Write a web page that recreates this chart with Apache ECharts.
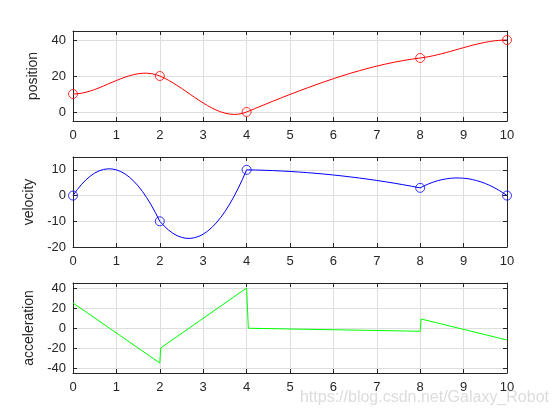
<!DOCTYPE html>
<html>
<head>
<meta charset="utf-8">
<script src="https://cdn.jsdelivr.net/npm/echarts@6/dist/echarts.min.js"></script>
<style>
html,body{margin:0;padding:0;background:#fff;}
#chart{width:560px;height:420px;}
</style>
</head>
<body>
<div id="chart"></div>
<script>
// Knot points (markers)
const tKnots   = [0, 2, 4, 8, 10];
const posKnots = [10, 20, 0, 30, 40];
const velKnots = [0, -10, 10, 3, 0];

const seg1T   = [0, 0.1, 0.2, 0.3, 0.4, 0.5, 0.6, 0.7, 0.8, 0.9, 1, 1.1, 1.2, 1.3, 1.4, 1.5, 1.6, 1.7, 1.8, 1.9, 2];
const seg1Pos = [10, 10.12, 10.46, 10.99, 11.68, 12.5, 13.42, 14.41, 15.44, 16.48, 17.5, 18.47, 19.36, 20.14, 20.78, 21.25, 21.52, 21.56, 21.34, 20.83, 20];
const seg1Vel = [0, 2.35, 4.4, 6.15, 7.6, 8.75, 9.6, 10.15, 10.4, 10.35, 10, 9.35, 8.4, 7.15, 5.6, 3.75, 1.6, -0.85, -3.6, -6.65, -10];

const seg2T   = [2, 2.1, 2.2, 2.3, 2.4, 2.5, 2.6, 2.7, 2.8, 2.9, 3, 3.1, 3.2, 3.3, 3.4, 3.5, 3.6, 3.7, 3.8, 3.9, 4];
const seg2Pos = [20, 18.91, 17.64, 16.24, 14.72, 13.13, 11.48, 9.82, 8.16, 6.55, 5, 3.56, 2.24, 1.09, 0.12, -0.63, -1.12, -1.34, -1.24, -0.81, 0];
const seg2Vel = [-10, -11.85, -13.4, -14.65, -15.6, -16.25, -16.6, -16.65, -16.4, -15.85, -15, -13.85, -12.4, -10.65, -8.6, -6.25, -3.6, -0.65, 2.6, 6.15, 10];

const seg3T   = [4, 4.2, 4.4, 4.6, 4.8, 5, 5.2, 5.4, 5.6, 5.8, 6, 6.2, 6.4, 6.6, 6.8, 7, 7.2, 7.4, 7.6, 7.8, 8];
const seg3Pos = [0, 1.99, 3.97, 5.93, 7.86, 9.75, 11.6, 13.41, 15.17, 16.87, 18.5, 20.06, 21.55, 22.96, 24.28, 25.5, 26.62, 27.64, 28.55, 29.34, 30];
const seg3Vel = [10, 9.94, 9.84, 9.72, 9.56, 9.38, 9.16, 8.92, 8.64, 8.34, 8, 7.64, 7.24, 6.82, 6.36, 5.88, 5.36, 4.82, 4.24, 3.64, 3];

const seg4T   = [8, 8.1, 8.2, 8.3, 8.4, 8.5, 8.6, 8.7, 8.8, 8.9, 9, 9.1, 9.2, 9.3, 9.4, 9.5, 9.6, 9.7, 9.8, 9.9, 10];
const seg4Pos = [30, 30.34, 30.77, 31.26, 31.81, 32.41, 33.04, 33.7, 34.38, 35.07, 35.75, 36.42, 37.06, 37.66, 38.22, 38.72, 39.15, 39.51, 39.77, 39.94, 40];
const seg4Vel = [3, 3.85, 4.59, 5.23, 5.76, 6.19, 6.51, 6.73, 6.84, 6.85, 6.75, 6.55, 6.24, 5.83, 5.31, 4.69, 3.96, 3.13, 2.19, 1.15, 0];

const accT    = [0, 2, 2.02, 4, 4.04, 8, 8.02, 10];
const accVals = [25, -35, -20, 40, -0.25, -3.25, 9, -12];

const posTicks = [0, 20, 40];
const velTicks = [-20, -10, 0, 10];
const accTicks = [-40, -20, 0, 20, 40];

const pairs = (xs, ys) => xs.map((x, i) => [x, ys[i]]);

const FONT = 'Liberation Sans, Arial, Helvetica, sans-serif';
const AX = '#262626';
const GRIDC = '#dedede';

const grids = [
  {left: 73, top: 31, width: 434, height: 90},
  {left: 73, top: 157, width: 434, height: 90},
  {left: 73, top: 283, width: 434, height: 90}
];

function xAxes(gi) {
  return [
    {
      type: 'value', gridIndex: gi, min: 0, max: 10, interval: 1, position: 'bottom',
      axisLine: {show: true, onZero: false, lineStyle: {color: AX, width: 1}},
      axisTick: {show: true, inside: true, length: 4, lineStyle: {color: AX}},
      axisLabel: {show: true, color: AX, fontFamily: FONT, fontSize: 13, margin: 8},
      splitLine: {show: true, lineStyle: {color: GRIDC, width: 1}}
    },
    {
      type: 'value', gridIndex: gi, min: 0, max: 10, interval: 1, position: 'top',
      axisLine: {show: true, onZero: false, lineStyle: {color: AX, width: 1}},
      axisTick: {show: true, inside: true, length: 4, lineStyle: {color: AX}},
      axisLabel: {show: false},
      splitLine: {show: false}
    }
  ];
}

function yAxes(gi, min, max, ticks, name, gap) {
  return [
    {
      type: 'value', gridIndex: gi, min: min, max: max, position: 'left',
      name: name, nameLocation: 'middle', nameGap: gap,
      nameTextStyle: {color: AX, fontFamily: FONT, fontSize: 14},
      axisLine: {show: true, onZero: false, lineStyle: {color: AX, width: 1}},
      axisTick: {show: true, inside: true, length: 4, lineStyle: {color: AX}, customValues: ticks},
      axisLabel: {show: true, color: AX, fontFamily: FONT, fontSize: 13, margin: 7, customValues: ticks},
      splitLine: {show: true, lineStyle: {color: GRIDC, width: 1}}
    },
    {
      type: 'value', gridIndex: gi, min: min, max: max, position: 'right',
      axisLine: {show: true, onZero: false, lineStyle: {color: AX, width: 1}},
      axisTick: {show: true, inside: true, length: 4, lineStyle: {color: AX}, customValues: ticks},
      axisLabel: {show: false, customValues: ticks},
      splitLine: {show: false}
    }
  ];
}

function lineSeries(xi, yi, data, color) {
  return {
    type: 'line', xAxisIndex: xi, yAxisIndex: yi, data: data,
    smooth: false, showSymbol: false, symbol: 'none',
    lineStyle: {color: color, width: 1}, animation: false, silent: true
  };
}
function markerSeries(xi, yi, data, color) {
  return {
    type: 'scatter', xAxisIndex: xi, yAxisIndex: yi, data: data,
    symbol: 'circle', symbolSize: 9, clip: false,
    itemStyle: {color: 'rgba(0,0,0,0)', borderColor: color, borderWidth: 1},
    animation: false, silent: true
  };
}

const option = {
  backgroundColor: '#ffffff',
  animation: false,
  grid: grids,
  xAxis: [...xAxes(0), ...xAxes(1), ...xAxes(2)],
  yAxis: [
    ...yAxes(0, -5, 45, posTicks, 'position', 25),
    ...yAxes(1, -20, 15, velTicks, 'velocity', 29),
    ...yAxes(2, -45, 45, accTicks, 'acceleration', 30)
  ],
  series: [
    lineSeries(0, 0, pairs(seg1T, seg1Pos), '#ff0000'),
    lineSeries(0, 0, pairs(seg2T, seg2Pos), '#ff0000'),
    lineSeries(0, 0, pairs(seg3T, seg3Pos), '#ff0000'),
    lineSeries(0, 0, pairs(seg4T, seg4Pos), '#ff0000'),
    markerSeries(0, 0, pairs(tKnots, posKnots), '#ff0000'),
    lineSeries(2, 2, pairs(seg1T, seg1Vel), '#0000ff'),
    lineSeries(2, 2, pairs(seg2T, seg2Vel), '#0000ff'),
    lineSeries(2, 2, pairs(seg3T, seg3Vel), '#0000ff'),
    lineSeries(2, 2, pairs(seg4T, seg4Vel), '#0000ff'),
    markerSeries(2, 2, pairs(tKnots, velKnots), '#0000ff'),
    lineSeries(4, 4, pairs(accT, accVals), '#00ff00')
  ],
  graphic: [
    {
      type: 'text', right: 11, top: 390,
      style: {text: 'https://blog.csdn.net/Galaxy_Robot', fill: '#dcdcdc', font: '16px ' + FONT}
    }
  ]
};

const chart = echarts.init(document.getElementById('chart'), null, {renderer: 'canvas'});
chart.setOption(option);
</script>
</body>
</html>
